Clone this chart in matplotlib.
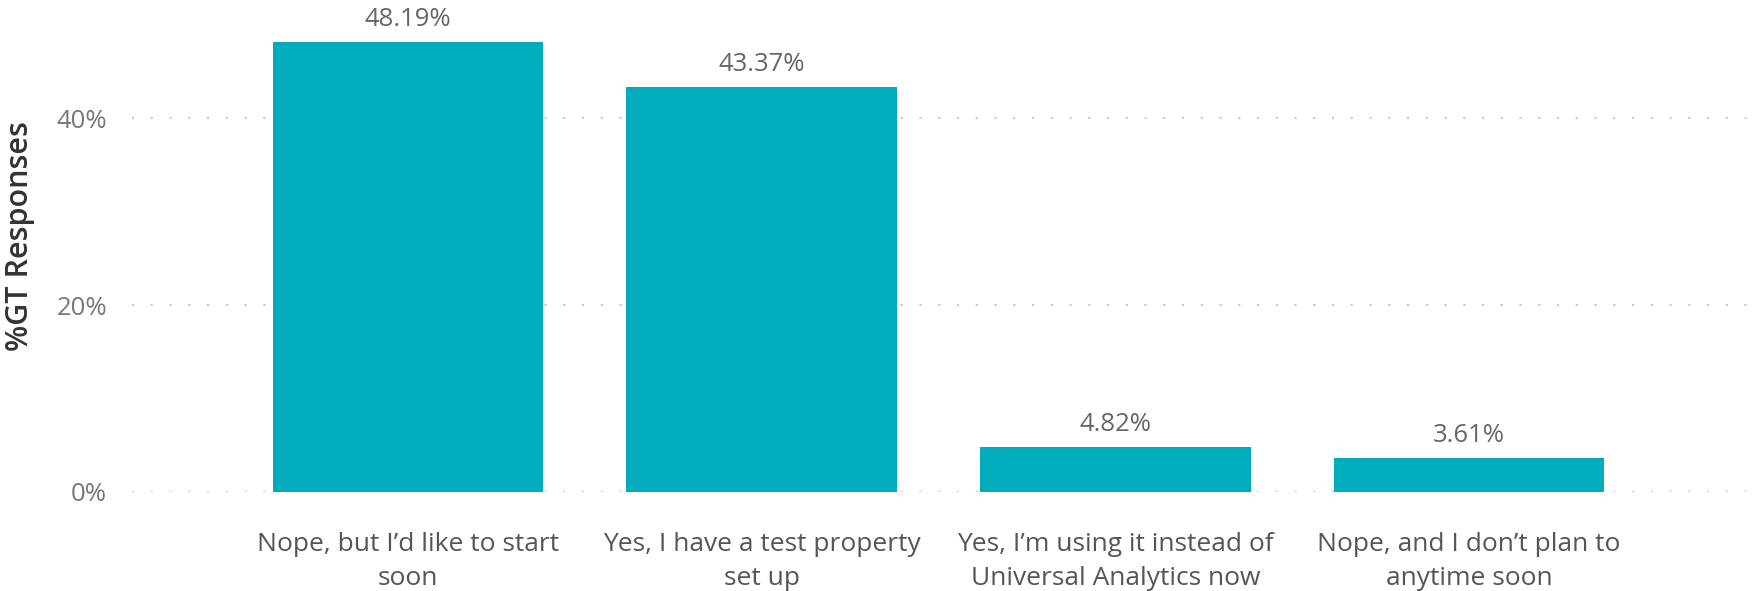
import matplotlib.pyplot as plt
from matplotlib.ticker import FuncFormatter

# Data
categories = [
    "Nope, but I\u2019d like to start\nsoon",
    "Yes, I have a test property\nset up",
    "Yes, I\u2019m using it instead of\nUniversal Analytics now",
    "Nope, and I don\u2019t plan to\nanytime soon",
]
values = [48.19, 43.37, 4.82, 3.61]
y_ticks = [0, 20, 40]

bar_color = '#01ACBD'


def main():
    fig = plt.figure(figsize=(17.52, 5.91), dpi=100)
    ax = fig.add_axes([0.0753, 0.168, 0.9247, 0.832])

    x = list(range(len(categories)))
    bars = ax.bar(x, values, width=0.765, color=bar_color, zorder=3)

    # Data labels above bars
    for b, v in zip(bars, values):
        ax.annotate(f"{v:.2f}%", (b.get_x() + b.get_width() / 2, v),
                    xytext=(0, 7), textcoords='offset points',
                    ha='center', va='bottom', fontsize=18.5,
                    family='Open Sans', color='#666666', clip_on=False)

    ax.set_xlim(-0.78, 3.8)
    ax.set_ylim(0, 52.7)
    ax.set_yticks(y_ticks)
    ax.yaxis.set_major_formatter(FuncFormatter(lambda v, p: f"{v:.0f}%"))
    ax.set_xticks(x)
    ax.set_xticklabels(categories, fontsize=19, family='Open Sans',
                       color='#555555', linespacing=1.5)
    ax.tick_params(axis='y', labelsize=18.5, labelcolor='#777777',
                   length=0, pad=18)
    ax.tick_params(axis='x', length=0, pad=29)
    for lbl in ax.get_yticklabels():
        lbl.set_family('Open Sans')

    ax.grid(axis='y', color='#C8C8C8', linestyle=(0, (1, 8)), linewidth=1.5, zorder=0)
    for s in ax.spines.values():
        s.set_visible(False)

    fig.text(0.0115, 0.60, '%GT Responses', rotation=90, ha='center', va='center',
             fontsize=22, family='Open Sans', weight='semibold', color='#333333')

    fig.savefig('out.png', dpi=100)


if __name__ == "__main__":
    main()
